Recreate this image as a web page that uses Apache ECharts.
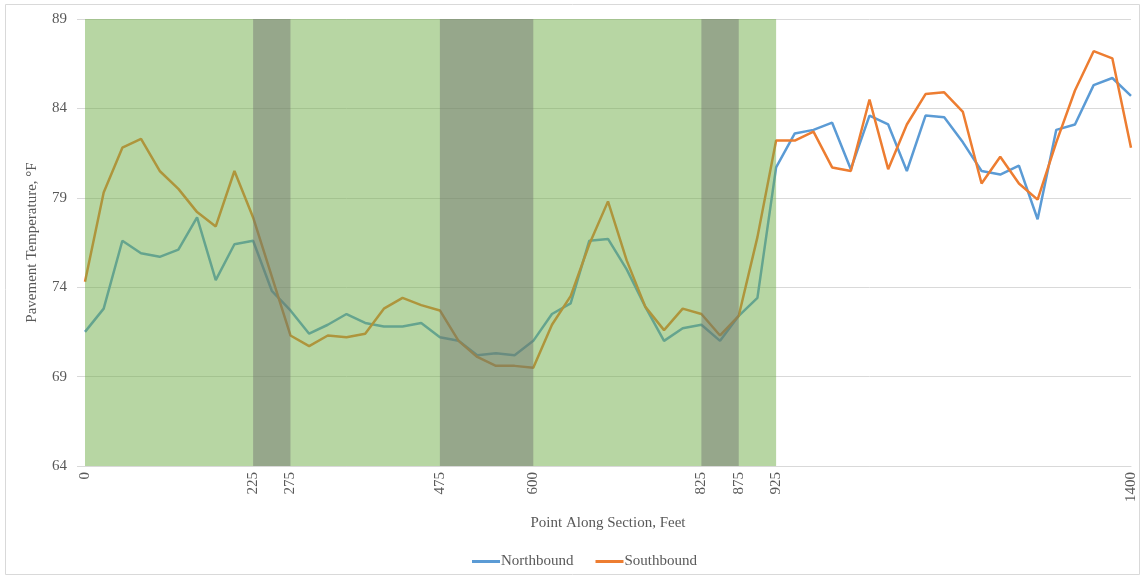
<!DOCTYPE html>
<html>
<head>
<meta charset="utf-8">
<script src="https://cdn.jsdelivr.net/npm/echarts@6/dist/echarts.min.js"></script>
<style>
  html, body { margin: 0; padding: 0; background: #ffffff; }
  #chart { width: 1144px; height: 578px; }
</style>
</head>
<body>
<div id="chart"></div>
<script>
// Survey stations along the section, feet
const stations = [
  0, 25, 50, 75, 100, 125, 150, 175, 200, 225,
  250, 275, 300, 325, 350, 375, 400, 425, 450, 475,
  500, 525, 550, 575, 600, 625, 650, 675, 700, 725,
  750, 775, 800, 825, 850, 875, 900, 925, 950, 975,
  1000, 1025, 1050, 1075, 1100, 1125, 1150, 1175, 1200, 1225,
  1250, 1275, 1300, 1325, 1350, 1375, 1400
];

// Pavement temperature, °F
const northbound = [
  71.5, 72.8, 76.6, 75.9, 75.7, 76.1, 77.9, 74.4, 76.4, 76.6,
  73.8, 72.7, 71.4, 71.9, 72.5, 72.0, 71.8, 71.8, 72.0, 71.2,
  71.0, 70.2, 70.3, 70.2, 71.0, 72.5, 73.1, 76.6, 76.7, 75.0,
  72.9, 71.0, 71.7, 71.9, 71.0, 72.4, 73.4, 80.7, 82.6, 82.8,
  83.2, 80.6, 83.6, 83.1, 80.5, 83.6, 83.5, 82.1, 80.5, 80.3,
  80.8, 77.8, 82.8, 83.1, 85.3, 85.7, 84.7
];
const southbound = [
  74.3, 79.3, 81.8, 82.3, 80.5, 79.5, 78.2, 77.4, 80.5, 77.9,
  74.6, 71.3, 70.7, 71.3, 71.2, 71.4, 72.8, 73.4, 73.0, 72.7,
  71.0, 70.1, 69.6, 69.6, 69.5, 71.9, 73.5, 76.4, 78.8, 75.5,
  72.9, 71.6, 72.8, 72.5, 71.3, 72.4, 76.8, 82.2, 82.2, 82.7,
  80.7, 80.5, 84.5, 80.6, 83.1, 84.8, 84.9, 83.8, 79.8, 81.3,
  79.8, 78.9, 82.1, 85.0, 87.2, 86.8, 81.8
];

// Labelled stations on the horizontal axis
const xTickLabels = [0, 225, 275, 475, 600, 825, 875, 925, 1400];

// Shaded stretches: [from ft, to ft, kind]
const treatedZone = [[0, 925, 'treated']];
const shadedZones = [[225, 275, 'shade'], [475, 600, 'shade'], [825, 875, 'shade']];

const bandFill = { treated: 'rgba(112,173,71,0.5)', shade: 'rgba(110,110,110,0.45)' };

const bands = treatedZone.concat(shadedZones);

const FONT = 'Liberation Serif';
const TEXT = '#595959';
const GRID = '#d9d9d9';

function renderBand(params, api) {
  const cs = params.coordSys;
  const p0 = api.coord([api.value(0), 0]);
  const p1 = api.coord([api.value(1), 0]);
  return {
    type: 'rect',
    shape: { x: p0[0], y: cs.y, width: p1[0] - p0[0], height: cs.height },
    style: { fill: bandFill[bands[params.dataIndex][2]] }
  };
}

const chart = echarts.init(document.getElementById('chart'), null, { renderer: 'canvas' });
chart.setOption({
  animation: false,
  backgroundColor: '#ffffff',
  graphic: [{
    type: 'rect', z: 0,
    shape: { x: 5.5, y: 4.5, width: 1134, height: 570 },
    style: { fill: null, stroke: GRID, lineWidth: 1 }
  }],
  grid: { left: 85, right: 13, top: 19, bottom: 112 },
  legend: {
    data: ['Northbound', 'Southbound'],
    left: 467, top: 549,
    itemWidth: 28, itemHeight: 3, itemGap: 22,
    icon: 'rect',
    textStyle: { fontFamily: FONT, fontSize: 15, color: TEXT, padding: [0, 0, 0, -4] }
  },
  xAxis: {
    type: 'value', min: 0, max: 1400,
    name: 'Point Along Section, Feet',
    nameLocation: 'middle', nameGap: 50,
    nameTextStyle: { fontFamily: FONT, fontSize: 15, color: TEXT },
    axisLine: { show: true, lineStyle: { color: GRID, width: 1 } },
    axisTick: { show: false },
    splitLine: { show: false },
    axisLabel: {
      customValues: xTickLabels,
      formatter: v => String(v),
      rotate: 90, margin: 6,
      fontFamily: FONT, fontSize: 15, color: TEXT
    }
  },
  yAxis: {
    type: 'value', min: 64, max: 89, interval: 5,
    name: 'Pavement Temperature, °F',
    nameLocation: 'middle', nameGap: 45,
    nameTextStyle: { fontFamily: FONT, fontSize: 15, color: TEXT },
    axisLine: { show: false },
    axisTick: { show: true, length: 8, lineStyle: { color: GRID } },
    splitLine: { show: true, lineStyle: { color: GRID, width: 1 } },
    axisLabel: { margin: 18, fontFamily: FONT, fontSize: 15, color: TEXT }
  },
  series: [
    {
      name: 'Northbound', type: 'line', z: 2,
      data: stations.map((s, i) => [s, northbound[i]]),
      showSymbol: false, symbol: 'none',
      lineStyle: { color: '#5B9BD5', width: 2.5 },
      itemStyle: { color: '#5B9BD5' }
    },
    {
      name: 'Southbound', type: 'line', z: 2,
      data: stations.map((s, i) => [s, southbound[i]]),
      showSymbol: false, symbol: 'none',
      lineStyle: { color: '#ED7D31', width: 2.5 },
      itemStyle: { color: '#ED7D31' }
    },
    {
      name: 'zones', type: 'custom', z: 10, silent: true,
      renderItem: renderBand,
      encode: { x: [0, 1] },
      data: bands.map(b => [b[0], b[1]])
    }
  ]
});
</script>
</body>
</html>
